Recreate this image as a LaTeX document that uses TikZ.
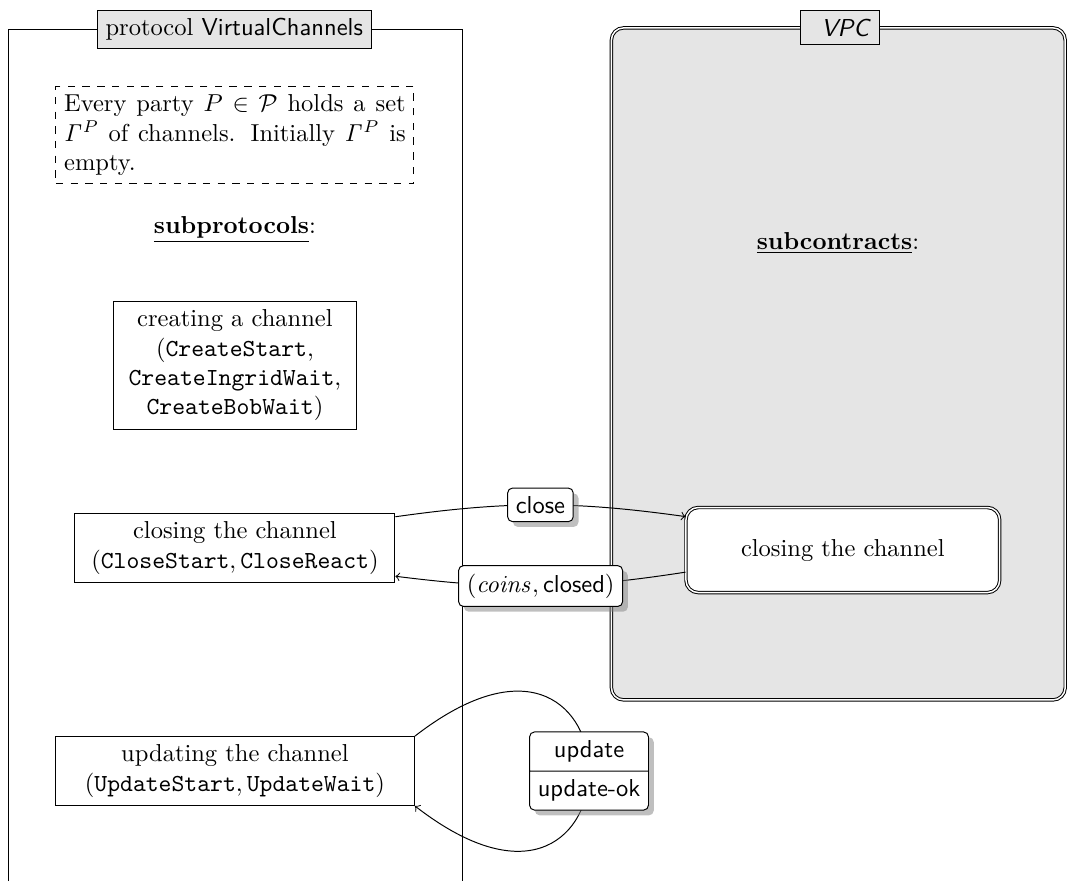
\documentclass[tikz,border=0pt]{standalone}
\usetikzlibrary{shapes.multipart,shadows}

\begin{document}
\begin{tikzpicture}
        \tikzstyle{frametitle}=[draw, fill=gray!20]
        \tikzstyle{subproto}=[draw, align=center]
        \tikzstyle{msg}=[draw, fill=white, rounded corners=2pt, drop shadow, font=\sffamily]
        \tikzstyle{msgsplit}=[msg, rectangle split, rectangle split parts=2]
        \useasboundingbox (0,0) rectangle (15.32,-12.64);
        % protocol frame
        \draw (0.115,-12.64) |- (6.63,-0.43) -- (6.63,-12.64);
        \node[frametitle] (ptitle) at (3.36,-0.42) {protocol \textsf{VirtualChannels}};
        \node[draw, dashed, text width=4.9cm, align=justify] (note) at (3.37,-1.94)
            {Every party $P \in \mathcal{P}$ holds a set $\mathit{\Gamma}^P$ of channels. Initially $\mathit{\Gamma}^P$ is empty.};
        \node (subp) at (3.37,-3.30) {\textbf{\underline{subprotocols}}:};
        \node[subproto, text width=3.25cm] (create) at (3.37,-5.24)
            {creating a channel (\texttt{CreateStart}, \texttt{CreateIngridWait}, \texttt{CreateBobWait})};
        \node[subproto, minimum width=4.59cm] (close) at (3.37,-7.86)
            {closing the channel\\$(\texttt{CloseStart}, \texttt{CloseReact})$};
        \node[subproto, minimum width=5.15cm] (upd) at (3.37,-11.06)
            {updating the channel\\$(\texttt{UpdateStart}, \texttt{UpdateWait})$};
        % VPC frame
        \draw[double, rounded corners=5pt, fill=gray!20] (8.77,-0.40) rectangle (15.28,-10.04);
        \node[frametitle] (vtitle) at (12.05,-0.40) {\hspace{5pt}\textsf{\textit{VPC}}};
        \node (subc) at (12.02,-3.49) {\textbf{\underline{subcontracts}}:};
        \node[draw, double, rounded corners=5pt, fill=white, minimum width=4.5cm, minimum height=1.22cm] (vclose) at (12.09,-7.89) {closing the channel};
        % messages
        \draw[->] (close.11) to[bend left=8] node[msg] {close} (vclose.168);
        \draw[->] (vclose.188) to[bend left=8] node[msg] {$(\mathit{coins}, \textsf{closed})$} (close.-10);
        \draw[->] (upd.north east) .. controls +(3.33,2.58) and +(3.33,-2.58) .. (upd.south east)
            node[msgsplit, midway] (updmsg) {update\nodepart{two}update-ok};
\end{tikzpicture}
\end{document}
